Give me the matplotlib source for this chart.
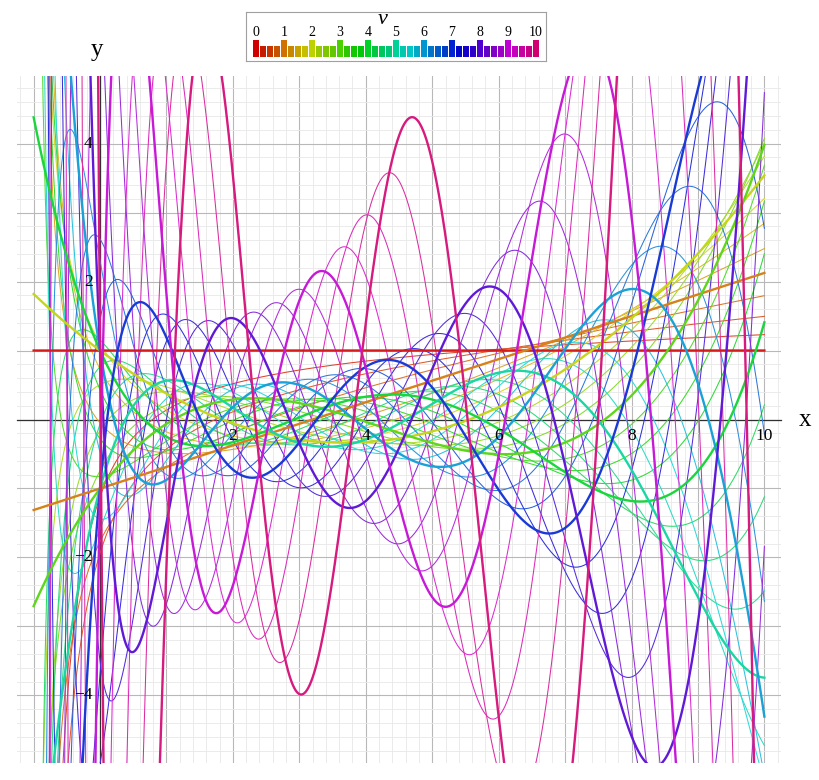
import math
import numpy as np
import matplotlib
matplotlib.use('Agg')
import matplotlib.pyplot as plt
from matplotlib.colors import hsv_to_rgb
from matplotlib.ticker import MultipleLocator, NullFormatter

# Charlier-type curves y(x; nu) with parameter a, nu = 0..10 in steps of 0.25
a_param = 3.2
nu_values = [i * 0.25 for i in range(41)]
x_min, x_max = -1.0, 10.0
x_ticks_labelled = [2, 4, 6, 8, 10]
y_ticks_labelled = [-4, -2, 2, 4]
legend_numbers = list(range(11))

gamma_vec = np.vectorize(math.gamma, otypes=[float])


def rgamma(z):
    z = np.asarray(z, dtype=float)
    out = np.empty_like(z)
    neg = z < 0.5
    if neg.any():
        zn = z[neg]
        out[neg] = np.sin(np.pi * zn) * gamma_vec(1.0 - zn) / np.pi
    if (~neg).any():
        out[~neg] = 1.0 / gamma_vec(z[~neg])
    return out


def charlier(nu, x, a, nterms=36):
    # a^-nu * Gamma(x+1) * sum_k (-nu)_k a^k / (k! Gamma(x-nu+1+k))
    total = np.zeros_like(x)
    c = 1.0
    for k in range(nterms):
        if c == 0.0:
            break
        total += c * rgamma(x - nu + 1 + k)
        c = c * (-nu + k) * a / (k + 1)
    return a ** (-nu) * gamma_vec(x + 1.0) * total


def nu_color(nu, s=1.0, v=0.8):
    return hsv_to_rgb([(32.8 * nu / 360.0) % 1.0, s, v])


fig = plt.figure(figsize=(8.2, 7.8), dpi=100)
ax = fig.add_axes([17 / 820, 17 / 780, 764 / 820, 687 / 780])

x = np.linspace(x_min + 5e-4, x_max, 2400)
for nu in nu_values:
    y = charlier(nu, x, a_param)
    y = np.where(np.abs(y) > 50, np.sign(y) * 50, y)
    is_int = abs(nu - round(nu)) < 1e-9
    if is_int:
        ax.plot(x, y, color=nu_color(nu, 0.88, 0.84), lw=1.7, zorder=3)
    else:
        ax.plot(x, y, color=nu_color(nu, 0.8, 0.86), lw=0.75, zorder=2)

ax.set_xlim(-1.25, 10.25)
ax.set_ylim(-4.98, 4.98)

ax.xaxis.set_major_locator(MultipleLocator(1))
ax.yaxis.set_major_locator(MultipleLocator(1))
ax.xaxis.set_minor_locator(MultipleLocator(0.2))
ax.yaxis.set_minor_locator(MultipleLocator(0.2))
ax.xaxis.set_major_formatter(NullFormatter())
ax.yaxis.set_major_formatter(NullFormatter())
ax.grid(which='major', color='#b8b8b8', lw=0.8, zorder=0)
ax.grid(which='minor', color='#e8e8e8', lw=0.6, zorder=0)
ax.set_axisbelow(True)

for s in ['top', 'right']:
    ax.spines[s].set_visible(False)
ax.spines['left'].set_position(('data', 0))
ax.spines['bottom'].set_position(('data', 0))
for s in ['left', 'bottom']:
    ax.spines[s].set_color('#303030')
    ax.spines[s].set_linewidth(0.9)
    ax.spines[s].set_zorder(1)
ax.tick_params(which='both', length=0)

# tick labels drawn above the curves
for v in x_ticks_labelled:
    ax.text(v, -0.24, str(v), family='Liberation Serif', fontsize=12.5,
            ha='center', va='center', zorder=10)
for v in y_ticks_labelled:
    ax.text(-0.11, v, str(v).replace('-', '\u2212'), family='Liberation Serif',
            fontsize=12.5, ha='right', va='center', zorder=10)

fig.text(805 / 820, 1 - 420 / 780, 'x', family='Liberation Serif', fontsize=18,
         ha='center', va='center')
fig.text(97 / 820, 1 - 50 / 780, 'y', family='Liberation Serif', fontsize=18,
         ha='center', va='center')

# legend box
lg = fig.add_axes([246 / 820, 1 - 61 / 780, 300 / 820, 49 / 780])
lg.set_xlim(0, 300)
lg.set_ylim(49, 0)
lg.set_xticks([])
lg.set_yticks([])
for s in lg.spines.values():
    s.set_color('#a0a0a0')
for i, nu in enumerate(nu_values):
    is_int = abs(nu - round(nu)) < 1e-9
    top = 28 if is_int else 33.7
    lg.bar(7.3 + 7 * i, 45.3 - top, bottom=top, width=5.4, align='edge',
           color=nu_color(nu, 1.0, 0.82 if is_int else 0.78))
for n in legend_numbers:
    lg.text(7.3 + 7 * 4 * n + 2.7, 21, str(n), family='Liberation Serif',
            fontsize=10, ha='center', va='center')
lg.text(137, 8, '\u03bd', family='Liberation Serif', style='italic',
        fontsize=16, ha='center', va='center')

fig.savefig('out.png', dpi=100)
